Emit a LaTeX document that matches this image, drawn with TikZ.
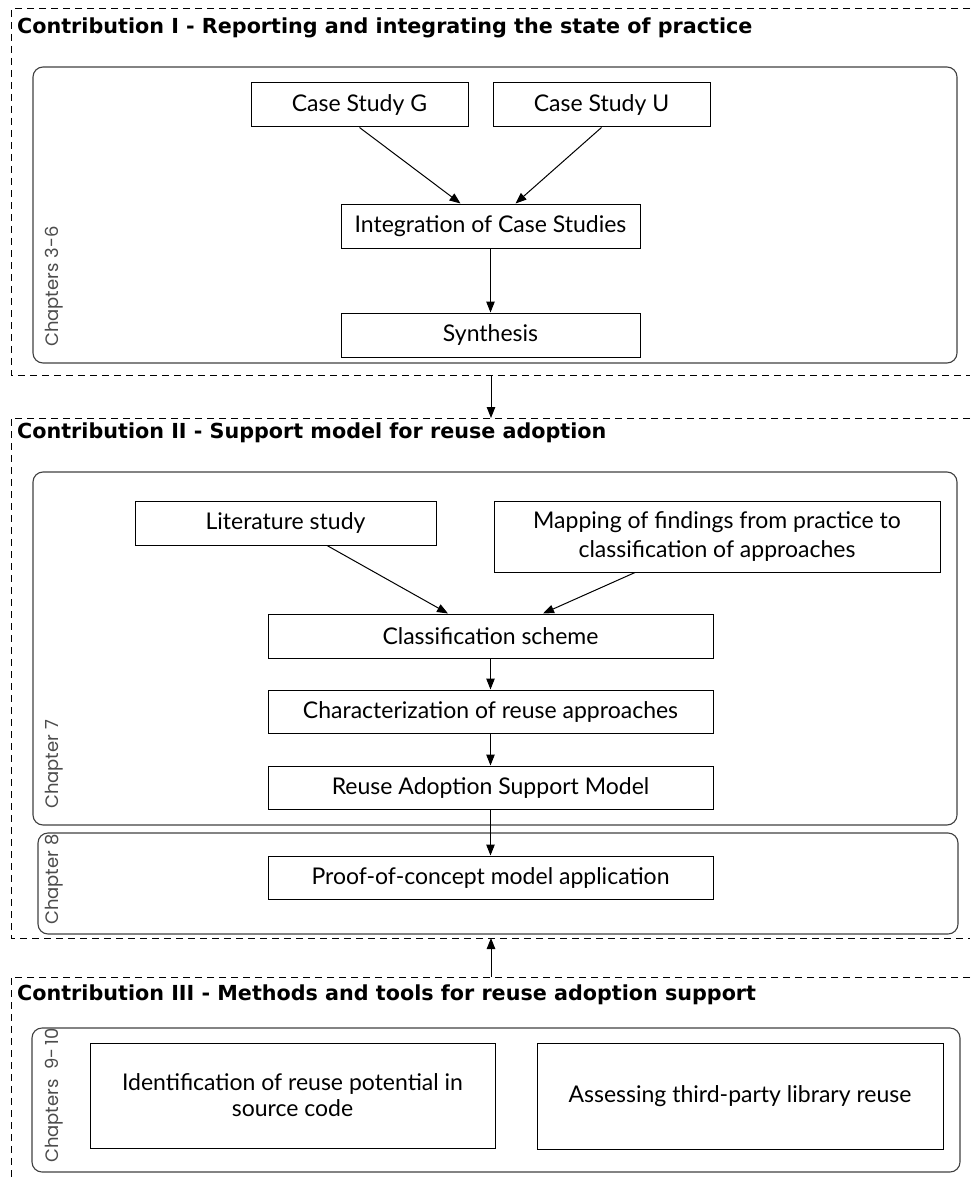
\documentclass[tikz,border=0pt]{standalone}
\usepackage{fontspec}
\setmainfont{Lato}
\newfontfamily\chapfont{Poppins}
\newfontfamily\headfont{DejaVu Sans}
\usetikzlibrary{arrows.meta,calc}

\begin{document}
\begin{tikzpicture}[x=1pt,y=-1pt,
  stepbox/.style={draw=black, line width=1pt, rectangle, inner sep=0pt, align=center,
    font=\fontsize{23}{29}\selectfont},
  chapbox/.style={draw=black!75, line width=1.1pt, rounded corners=10pt},
  frame/.style={draw=black, line width=1pt, dash pattern=on 7pt off 5pt},
  flow/.style={-{Triangle[length=11pt,width=8.5pt]}, line width=1pt},
  title/.style={anchor=west, inner sep=0pt, font=\headfont\bfseries\fontsize{20.7}{23}\selectfont},
  chaplabel/.style={rotate=90, anchor=west, inner sep=0pt, text=black!70,
    font=\chapfont\fontsize{18}{20}\selectfont}
]
\useasboundingbox (0,0) rectangle (970,1180);

% ---------- Contribution I ----------
\draw[frame] (970,9) -- (11,9) -- (11,375) -- (970,375);
\node[title] (t1) at (17,28) {Contribution I - Reporting and integrating the state of practice};
\draw[chapbox] (33,67) rectangle (957,363);
\node[chaplabel] (c1) at (54,347) {Chapters 3-6};

\node[stepbox, minimum width=217pt, minimum height=44pt] (csg) at (359.5,105) {Case Study G};
\node[stepbox, minimum width=217pt, minimum height=44pt] (csu) at (601.5,105) {Case Study U};
\node[stepbox, minimum width=299pt, minimum height=44pt] (integ) at (490.5,226) {Integration of Case Studies};
\node[stepbox, minimum width=299pt, minimum height=44pt] (synth) at (490.5,335) {Synthesis};

\draw[flow] (csg.south) -- ($(integ.north)+(-30,0)$);
\draw[flow] (csu.south) -- ($(integ.north)+(25,0)$);
\draw[flow] (integ.south) -- (synth.north);

% link to Contribution II
\coordinate (f1b) at (491,375);
\coordinate (f2t) at (491,418);
\draw[flow] (f1b) -- (f2t);

% ---------- Contribution II ----------
\draw[frame] (970,418) -- (11,418) -- (11,938) -- (970,938);
\node[title] (t2) at (17,433) {Contribution II - Support model for reuse adoption};
\draw[chapbox] (33,472) rectangle (957,825);
\node[chaplabel] (c2) at (54,809) {Chapter 7};
\draw[chapbox] (38,833) rectangle (958,934);
\node[chaplabel] (c3) at (54,925) {Chapter 8};

\node[stepbox, minimum width=301pt, minimum height=44pt] (lit) at (285.5,523) {Literature study};
\node[stepbox, minimum width=446pt, minimum height=71pt] (map) at (717,536.5)
  {Mapping of findings from practice to\\classification of approaches};
\node[stepbox, minimum width=445pt, minimum height=44pt] (cls) at (490.5,636) {Classification scheme};
\node[stepbox, minimum width=445pt, minimum height=43pt] (chr) at (490.5,711.5) {Characterization of reuse approaches};
\node[stepbox, minimum width=445pt, minimum height=43pt] (rasm) at (490.5,787.5) {Reuse Adoption Support Model};
\node[stepbox, minimum width=445pt, minimum height=43pt] (poc) at (490.5,877.5) {Proof-of-concept model application};

\draw[flow] ($(lit.south)+(41.5,0)$) -- ($(cls.north)+(-42.5,0)$);
\draw[flow] ($(map.south)+(-82,0)$) -- ($(cls.north)+(52.5,0)$);
\draw[flow] (cls.south) -- (chr.north);
\draw[flow] (chr.south) -- (rasm.north);
\draw[flow] (rasm.south) -- (poc.north);

% link from Contribution III
\coordinate (f3t) at (491,977);
\coordinate (f2b) at (491,938);
\draw[flow] (f3t) -- (f2b);

% ---------- Contribution III ----------
\draw[frame] (970,977) -- (11,977) -- (11,1180);
\node[title] (t3) at (17,995) {Contribution III - Methods and tools for reuse adoption support};
\draw[chapbox] (32,1028) rectangle (960,1172);
\node[chaplabel] (c4) at (54,1163) {Chapters\ \ 9-\,10};

\node[stepbox, minimum width=405pt, minimum height=105pt, font=\fontsize{23}{26}\selectfont] (ident) at (292.5,1095.5)
  {Identification of reuse potential in\\source code};
\node[stepbox, minimum width=406pt, minimum height=106pt] (assess) at (740,1096)
  {Assessing third-party library reuse};
\end{tikzpicture}
\end{document}
